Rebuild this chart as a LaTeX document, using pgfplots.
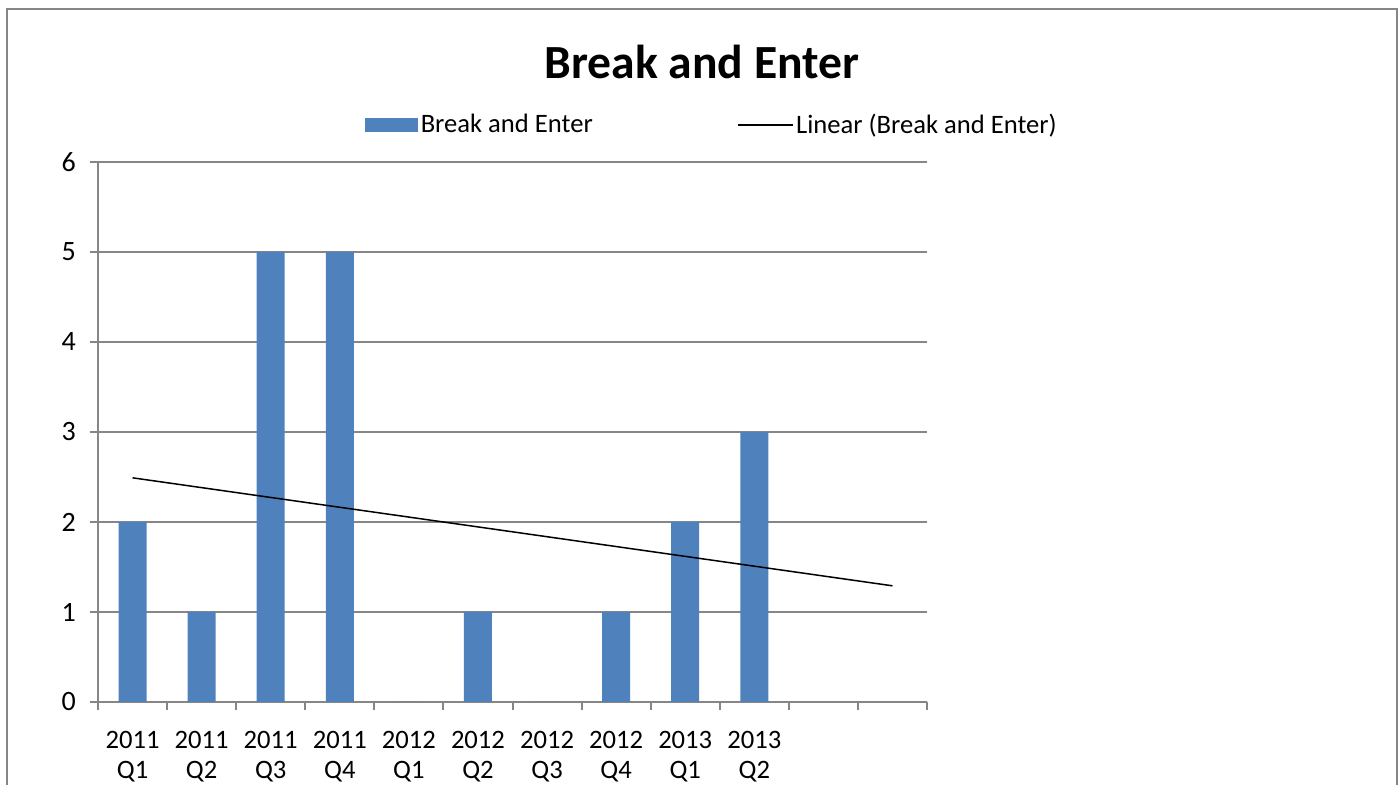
\documentclass[border=0pt]{standalone}
\usepackage{fontspec}
\setmainfont{Carlito}
\usepackage{pgfplots}
\pgfplotsset{compat=1.18}
\definecolor{barblue}{HTML}{4F81BD}
\definecolor{axgray}{HTML}{868686}
\begin{document}
\begin{tikzpicture}
\useasboundingbox (0,0) rectangle (700pt,392.5pt);
% outer chart frame (bottom edge is cut off in the reference)
\draw[axgray, line width=1pt] (3.5pt,0) -- (3.5pt,388pt) -- (698.5pt,388pt) -- (698.5pt,0);
\node[font=\fontsize{23.8}{28}\selectfont\bfseries] at (351pt,361.5pt) {Break and Enter};
\begin{axis}[
    at={(49pt,41.5pt)}, anchor=south west,
    scale only axis,
    width=414.5pt, height=270pt,
    xmin=-0.5, xmax=11.5,
    ymin=0, ymax=6,
    ytick={0,1,...,6},
    xtick={0,1,...,9},
    xticklabels={2011\\Q1,2011\\Q2,2011\\Q3,2011\\Q4,2012\\Q1,2012\\Q2,2012\\Q3,2012\\Q4,2013\\Q1,2013\\Q2},
    minor xtick={-0.5,0.5,...,11.5},
    every major x tick/.append style={draw=none},
    tick align=outside,
    major tick length=4pt, minor tick length=4pt,
    tick style={axgray, line width=1pt},
    axis x line*=bottom, axis y line*=left,
    axis line style={axgray, line width=1pt, -},
    ymajorgrids,
    grid style={axgray, line width=1pt},
    ticklabel style={font=\fontsize{13.3}{15}\selectfont},
    xticklabel style={align=center, yshift=-7pt},
    yticklabel style={xshift=-3.5pt, font=\fontsize{14}{15}\selectfont},
    /pgf/number format/assume math mode=true,
    legend columns=2,
    legend style={draw=none, at={(0.322,1.0685)}, anchor=west, inner sep=0pt,
        font=\fontsize{13.3}{15}\selectfont,
        nodes={inner sep=1.2pt},
        /tikz/every even column/.append style={column sep=71pt}},
]
\addplot[ybar, bar width=14pt, fill=barblue, draw=none,
    legend image code/.code={\fill[barblue] (0pt,-3.5pt) rectangle (26.5pt,3.5pt);}]
    table[x=q, y=n] {
    q n
    0 2
    1 1
    2 5
    3 5
    4 0
    5 1
    6 0
    7 1
    8 2
    9 3
};
\addlegendentry{Break and Enter}
% least-squares trend of the ten quarters, extended to slot 11
\addplot[black, line width=0.75pt,
    legend image code/.code={\draw[black, line width=0.75pt] (0pt,0pt) -- (27.5pt,0pt);}]
    coordinates {(0,2.4909) (11,1.2909)};
\addlegendentry{Linear (Break and Enter)}
\end{axis}
\end{tikzpicture}
\end{document}
